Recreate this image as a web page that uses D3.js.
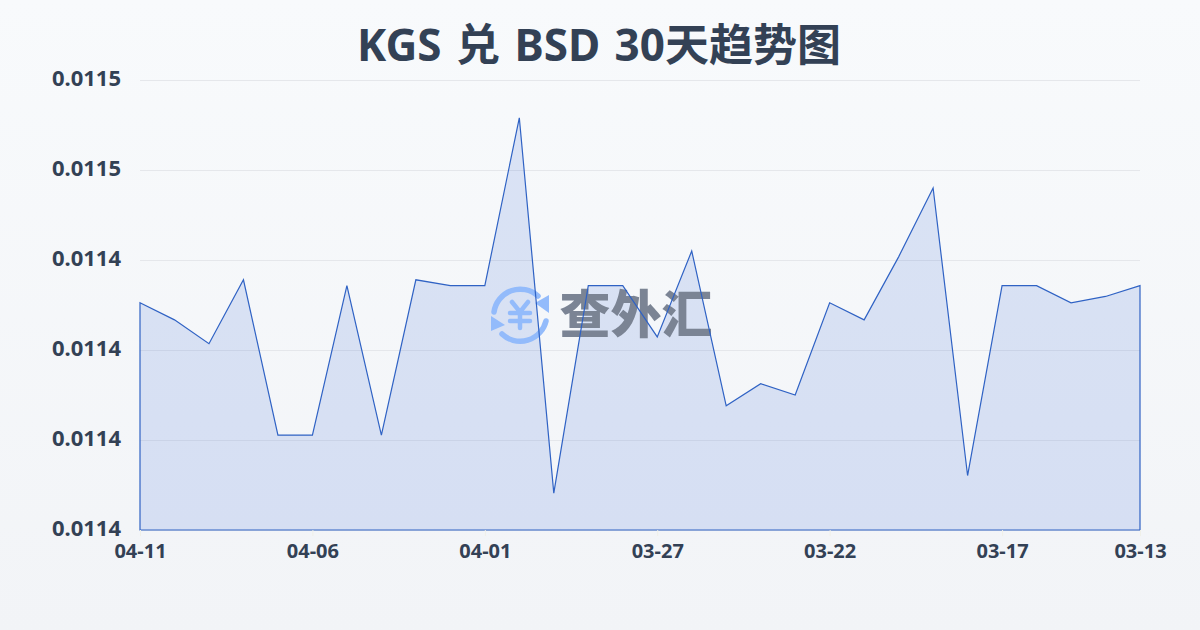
<!DOCTYPE html>
<html><head><meta charset="utf-8">
<script src="https://cdn.jsdelivr.net/npm/d3@7"></script>
<style>html,body{margin:0;padding:0;width:1200px;height:630px;overflow:hidden}
text{font-family:"Noto Sans","Noto Sans CJK SC",sans-serif}</style></head>
<body><script>
const titleText = "KGS 兑 BSD 30天趋势图";
const dates = ["04-11","04-10","04-09","04-08","04-07","04-06","04-05","04-04","04-03","04-02","04-01","03-31","03-30","03-29","03-28","03-27","03-26","03-25","03-24","03-23","03-22","03-21","03-20","03-19","03-18","03-17","03-16","03-15","03-14","03-13"];
const rates = [0.0114305,0.0114267,0.0114214,0.0114356,0.0114011,0.0114011,0.0114343,0.0114011,0.0114356,0.0114343,0.0114343,0.0114716,0.0113882,0.0114343,0.0114343,0.0114229,0.011442,0.0114076,0.0114125,0.01141,0.0114305,0.0114267,0.0114407,0.011456,0.0113921,0.0114343,0.0114343,0.0114305,0.0114319,0.0114343];
const yTicks = [0.01138,0.0114,0.01142,0.01144,0.01146,0.01148];
const xTickLabels = ["04-11","04-06","04-01","03-27","03-22","03-17","03-13"];

const W=1200,H=630,m={l:140,r:1140,t:80,b:530};
const svg=d3.select("body").append("svg").attr("width",W).attr("height",H).style("display","block");
const defs=svg.append("defs");
const bg=defs.append("linearGradient").attr("id","bg").attr("x1",0).attr("y1",0).attr("x2",0).attr("y2",1);
bg.append("stop").attr("offset",0).attr("stop-color","#f8fafc");
bg.append("stop").attr("offset",1).attr("stop-color","#f2f4f7");
svg.append("rect").attr("width",W).attr("height",H).attr("fill","url(#bg)");

const x=d3.scalePoint().domain(dates).range([m.l,m.r]);
const y=d3.scaleLinear().domain([yTicks[0],yTicks[yTicks.length-1]]).range([m.b,m.t]);

svg.append("text").attr("x",599).attr("y",61).attr("text-anchor","middle")
  .attr("font-size",44).attr("font-weight",700).attr("fill","#334155").attr("word-spacing",3).text(titleText);

const gy=svg.append("g").attr("transform",`translate(${m.l},0)`)
  .call(d3.axisLeft(y).tickValues(yTicks).tickSize(-(m.r-m.l)).tickPadding(19).tickFormat(d=>d.toFixed(4)));
gy.select(".domain").remove();
gy.selectAll("line").attr("stroke","#e5e7eb").attr("stroke-width",1);
gy.selectAll("text").attr("font-size",22).attr("font-weight",700).attr("fill","#334155").attr("dy","5").attr("y",0);

const area=d3.area().x((d,i)=>x(dates[i])).y0(m.b).y1(d=>y(d));
svg.append("path").datum(rates).attr("d",area).attr("fill","#2a5fd8").attr("fill-opacity",0.14);

// watermark
const wm=svg.append("g");
const ic=wm.append("g").attr("transform","translate(520,315)").attr("fill","none").attr("stroke","#93bbfb").attr("stroke-width",5.5).attr("stroke-linecap","round");
ic.append("path").attr("d","M-26,-3 A26.5,26.5 0 0 1 18,-19");
ic.append("path").attr("d","M26,6 A26.5,26.5 0 0 1 -18,19");
ic.append("path").attr("fill","#93bbfb").attr("stroke","none").attr("d","M29,-20 L29,-2 L15,-12 Z");
ic.append("path").attr("fill","#93bbfb").attr("stroke","none").attr("d","M-29,1 L-29,16 L-15,10 Z");
ic.append("path").attr("stroke-width",4.5).attr("d","M-8,-13 L0,-3 L8,-13 M-10,-2 H10 M-10,6 H10 M0,-3 V13");
wm.append("text").attr("x",636).attr("y",333).attr("text-anchor","middle").attr("font-size",51).attr("font-weight",900).attr("fill","#7b8494").text("查外汇");

svg.append("path").datum(rates).attr("d",area).attr("fill","none").attr("stroke","#2f62c4").attr("stroke-width",1.2);

const gx=svg.append("g").attr("transform",`translate(0,${m.b})`)
  .call(d3.axisBottom(x).tickValues(dates.filter(d=>xTickLabels.includes(d))).tickSize(6).tickPadding(8));
gx.select(".domain").remove();
gx.selectAll("line").attr("stroke","#f0f0e8");
gx.selectAll("text").attr("font-size",20).attr("font-weight",700).attr("fill","#334155");
</script></body></html>
